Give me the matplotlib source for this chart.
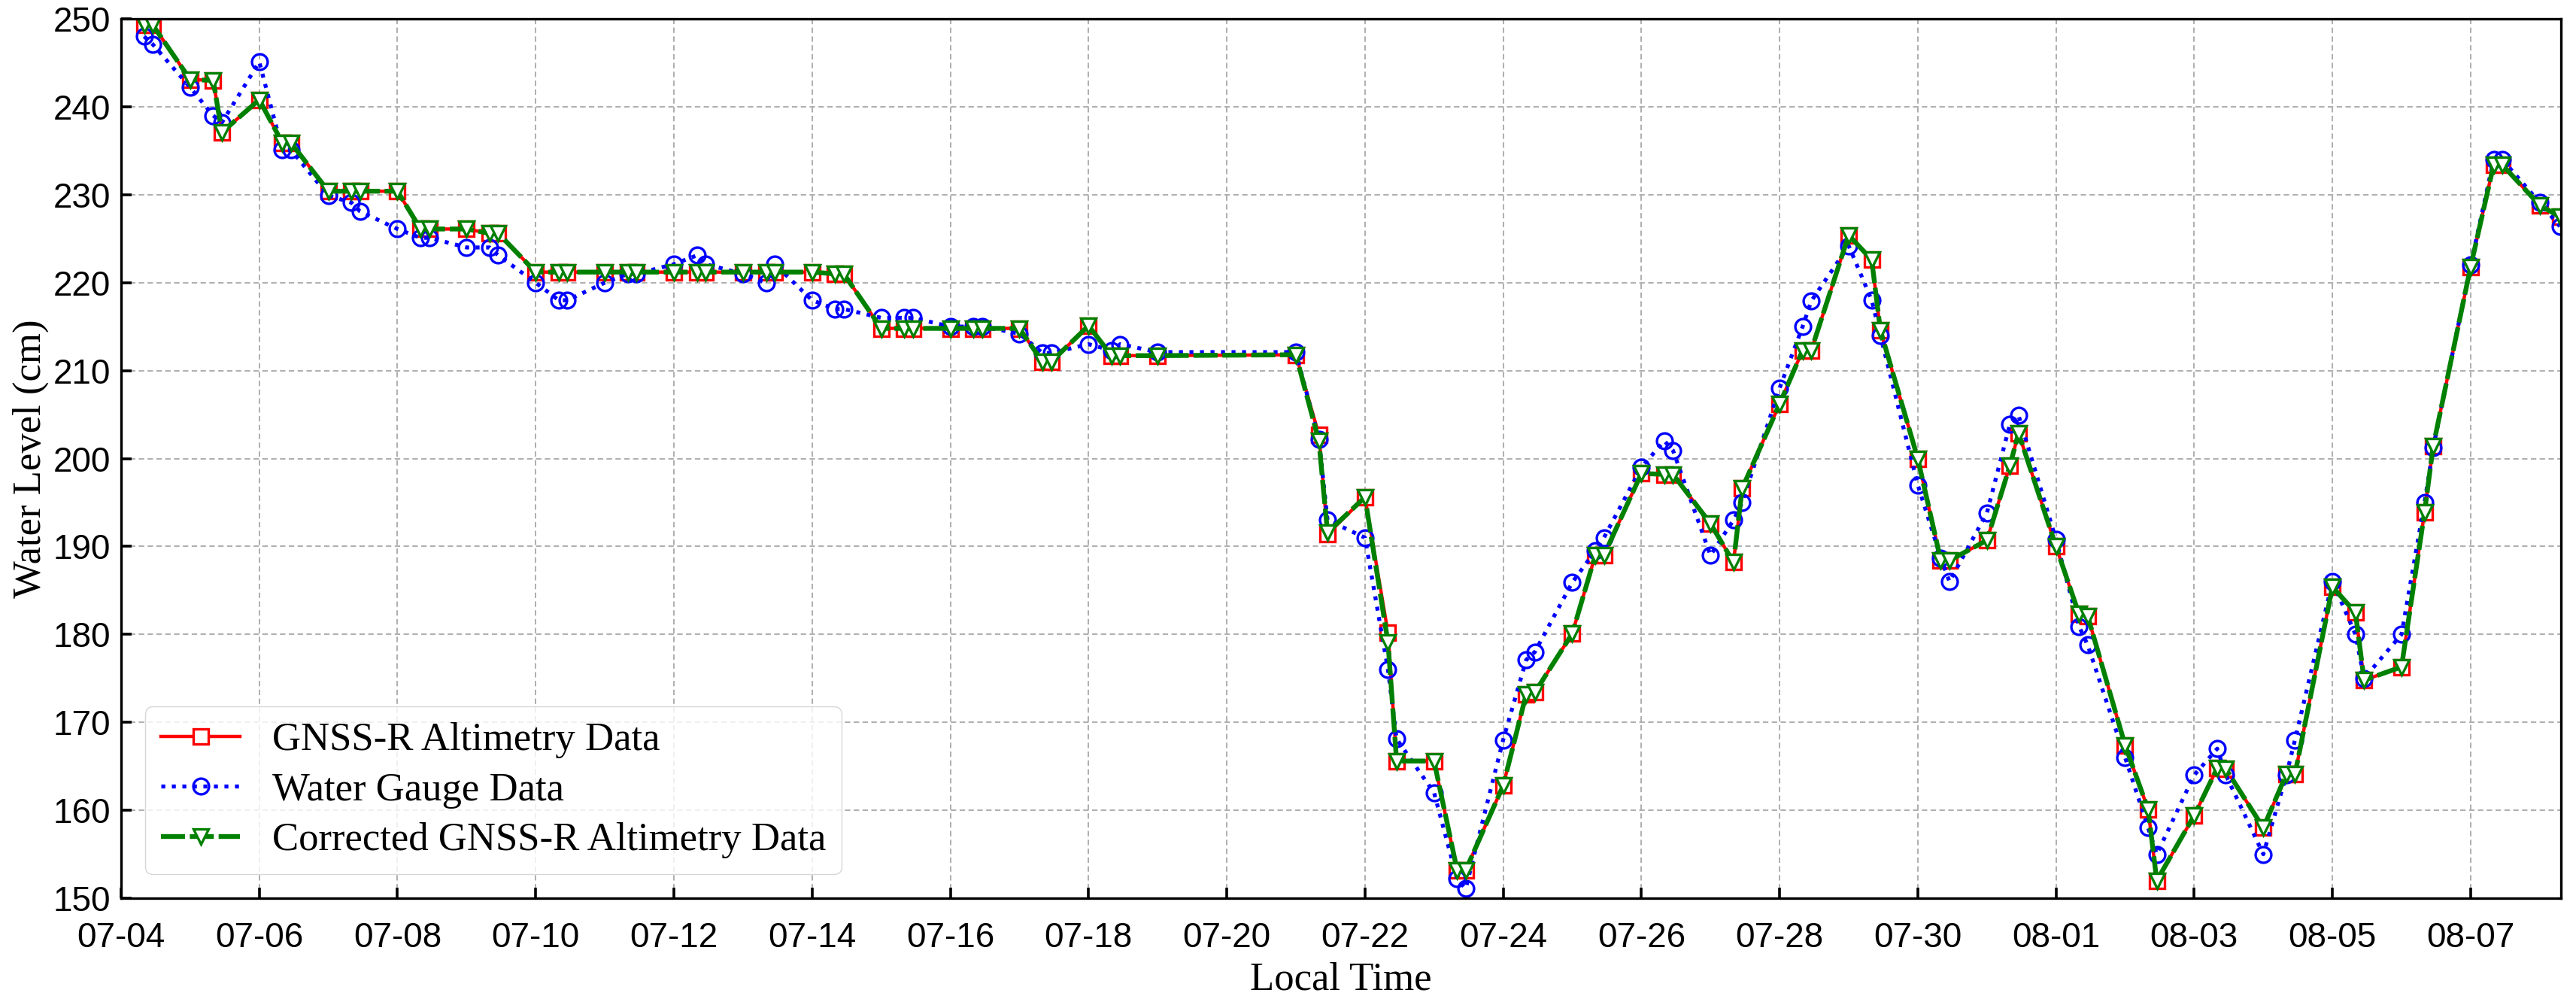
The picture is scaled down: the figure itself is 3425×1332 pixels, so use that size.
import pandas as pd
import matplotlib
matplotlib.use("Agg")
from matplotlib import pyplot as plt

# observation times (MM-DD HH:MM), year not shown on the chart
times = [
    "07-04 08:00", "07-04 11:00",
    "07-05 00:00", "07-05 08:00", "07-05 11:00",
    "07-06 00:00", "07-06 08:00", "07-06 11:00",
    "07-07 00:00", "07-07 08:00", "07-07 11:00",
    "07-08 00:00", "07-08 08:00", "07-08 11:00",
    "07-09 00:00", "07-09 08:00", "07-09 11:00",
    "07-10 00:00", "07-10 08:00", "07-10 11:00",
    "07-11 00:00", "07-11 08:00", "07-11 11:00",
    "07-12 00:00", "07-12 08:00", "07-12 11:00",
    "07-13 00:00", "07-13 08:00", "07-13 11:00",
    "07-14 00:00", "07-14 08:00", "07-14 11:00",
    "07-15 00:00", "07-15 08:00", "07-15 11:00",
    "07-16 00:00", "07-16 08:00", "07-16 11:00",
    "07-17 00:00", "07-17 08:00", "07-17 11:00",
    "07-18 00:00", "07-18 08:00", "07-18 11:00",
    "07-19 00:00",
    "07-21 00:00", "07-21 08:00", "07-21 11:00",
    "07-22 00:00", "07-22 08:00", "07-22 11:00",
    "07-23 00:00", "07-23 08:00", "07-23 11:00",
    "07-24 00:00", "07-24 08:00", "07-24 11:00",
    "07-25 00:00", "07-25 08:00", "07-25 11:00",
    "07-26 00:00", "07-26 08:00", "07-26 11:00",
    "07-27 00:00", "07-27 08:00", "07-27 11:00",
    "07-28 00:00", "07-28 08:00", "07-28 11:00",
    "07-29 00:00", "07-29 08:00", "07-29 11:00",
    "07-30 00:00", "07-30 08:00", "07-30 11:00",
    "07-31 00:00", "07-31 08:00", "07-31 11:00",
    "08-01 00:00", "08-01 08:00", "08-01 11:00",
    "08-02 00:00", "08-02 08:00", "08-02 11:00",
    "08-03 00:00", "08-03 08:00", "08-03 11:00",
    "08-04 00:00", "08-04 08:00", "08-04 11:00",
    "08-05 00:00", "08-05 08:00", "08-05 11:00",
    "08-06 00:00", "08-06 08:00", "08-06 11:00",
    "08-07 00:00", "08-07 08:00", "08-07 11:00",
    "08-08 00:00", "08-08 07:00",
]

corrected = [
    249.3, 249.3,
    243.1, 243.0, 237.1,
    240.8, 235.9, 235.9,
    230.4, 230.4, 230.4,
    230.4, 226.1, 226.1,
    226.1, 225.6, 225.6,
    221.2, 221.2, 221.2,
    221.2, 221.2, 221.2,
    221.2, 221.2, 221.2,
    221.2, 221.2, 221.2,
    221.2, 221.0, 221.0,
    214.8, 214.8, 214.8,
    214.8, 214.8, 214.8,
    214.8, 211.0, 211.0,
    215.1, 211.7, 211.7,
    211.7,
    211.8, 202.0, 191.6,
    195.6, 179.1, 165.6,
    165.6, 153.2, 153.2,
    162.8, 173.2, 173.4,
    180.1, 189.0, 189.0,
    198.3, 198.2, 198.2,
    192.6, 188.2, 196.6,
    206.2, 212.3, 212.3,
    225.4, 222.6, 214.6,
    200.0, 188.4, 188.4,
    190.7, 199.2, 202.9,
    190.0, 182.3, 182.1,
    167.4, 160.1, 152.0,
    159.4, 164.8, 164.7,
    158.0, 164.1, 164.1,
    185.4, 182.5, 174.8,
    176.3, 193.9, 201.4,
    221.8, 233.4, 233.4,
    228.8, 227.5,
]

gnss = [
    249.3, 249.3,
    243.1, 243.0, 237.1,
    240.8, 235.9, 235.9,
    230.4, 230.4, 230.4,
    230.4, 226.1, 226.1,
    226.1, 225.6, 225.6,
    221.2, 221.2, 221.2,
    221.2, 221.2, 221.2,
    221.2, 221.2, 221.2,
    221.2, 221.2, 221.2,
    221.2, 221.0, 221.0,
    214.8, 214.8, 214.8,
    214.8, 214.8, 214.8,
    214.8, 211.0, 211.0,
    215.1, 211.7, 211.7,
    211.7,
    211.8, 202.7, 191.4,
    195.6, 180.2, 165.6,
    165.6, 153.2, 153.2,
    162.8, 173.2, 173.4,
    180.1, 189.0, 189.0,
    198.3, 198.2, 198.2,
    192.6, 188.2, 196.6,
    206.2, 212.3, 212.3,
    225.4, 222.6, 214.6,
    200.0, 188.4, 188.4,
    190.7, 199.2, 202.9,
    190.0, 182.3, 182.1,
    167.4, 160.1, 152.0,
    159.4, 164.8, 164.7,
    158.0, 164.1, 164.1,
    185.4, 182.5, 174.8,
    176.3, 193.9, 201.4,
    221.8, 233.4, 233.4,
    228.8, 227.5,
]

gauge = [
    248.0, 247.1,
    242.2, 239.0, 238.2,
    245.1, 235.1, 235.1,
    229.9, 229.1, 228.1,
    226.1, 225.1, 225.1,
    224.0, 224.0, 223.1,
    220.0, 218.0, 218.0,
    220.0, 221.0, 221.0,
    222.1, 223.1, 222.1,
    221.0, 220.0, 222.1,
    218.0, 217.0, 217.0,
    216.0, 216.0, 216.0,
    215.0, 215.0, 215.0,
    214.2, 212.0, 212.0,
    213.0, 212.3, 213.0,
    212.1,
    212.1, 202.2, 193.0,
    191.0, 176.0, 168.1,
    162.0, 152.2, 151.1,
    168.0, 177.1, 178.0,
    185.9, 189.5, 191.0,
    199.0, 202.0, 200.9,
    189.0, 193.0, 195.0,
    208.0, 215.0, 217.9,
    224.2, 218.0, 214.0,
    197.0, 188.7, 186.0,
    193.8, 203.9, 204.9,
    190.8, 180.9, 178.8,
    166.0, 158.0, 155.0,
    164.0, 167.0, 164.0,
    155.0, 164.0, 168.0,
    186.0, 180.0, 175.0,
    180.0, 195.0, 201.2,
    222.0, 234.0, 234.0,
    229.1, 226.4,
]

tick_labels = ["07-04", "07-06", "07-08", "07-10", "07-12", "07-14", "07-16",
               "07-18", "07-20", "07-22", "07-24", "07-26", "07-28", "07-30",
               "08-01", "08-03", "08-05", "08-07"]

year = "2022-"
t = pd.to_datetime([year + s for s in times], format="%Y-%m-%d %H:%M")
ticks = pd.to_datetime([year + s for s in tick_labels], format="%Y-%m-%d")

plt.rcParams['font.family'] = ['Liberation Serif', 'DejaVu Serif']

fig = plt.figure(figsize=(34.25, 13.32), dpi=100)
ax = fig.add_axes([0.047, 0.1036, 0.9473, 0.8776])

ax.plot(t, gnss, color="red", lw=3.2, marker="s", ms=15, mfc="white",
        mec="red", mew=2.4, label="GNSS-R Altimetry Data")
ax.plot(t, gauge, color="blue", lw=3.8, ls=":", marker="o", ms=15, mfc="none",
        mec="blue", mew=2.4, label="Water Gauge Data")
ax.plot(t, corrected, color="green", lw=4.6, ls=(0, (5, 1)), marker="v", ms=15,
        mfc="white", mec="green", mew=2.4, label="Corrected GNSS-R Altimetry Data")

ax.set_xlim(pd.Timestamp(year + "07-04 00:00"), pd.Timestamp(year + "08-08 07:30"))
ax.set_ylim(150, 250)
ax.set_yticks(range(150, 251, 10))
ax.set_xticks(ticks)
ax.set_xticklabels(tick_labels)

ax.grid(True, color="#a8a8a8", ls=(0, (4, 2.5)), lw=1.3)
ax.tick_params(direction="in", length=10, width=2.6, labelsize=33,
               labelfontfamily="Liberation Sans")
ax.tick_params(axis="x", pad=22)
ax.tick_params(axis="y", pad=10)
for s in ax.spines.values():
    s.set_linewidth(2.4)

ax.set_xlabel("Local Time", fontsize=38, labelpad=7)
ax.set_ylabel("Water Level (cm)", fontsize=38, labelpad=4)

ax.legend(loc="lower left", fontsize=38, borderaxespad=0.6, handlelength=2.0,
          framealpha=0.8, edgecolor="#cccccc", labelspacing=0.35)

fig.savefig("out.png", dpi=100)
